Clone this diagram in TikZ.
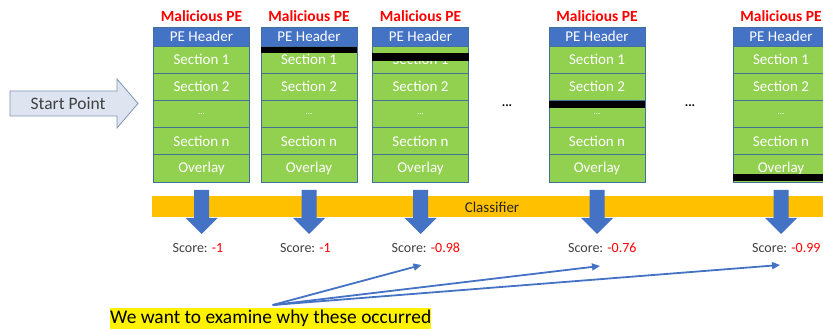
\documentclass[tikz,border=0pt]{standalone}
\usepackage{fontspec}
\setmainfont{Carlito}
\usetikzlibrary{arrows.meta}
\definecolor{hdrblue}{HTML}{4472C4}
\definecolor{secgreen}{HTML}{92D050}
\definecolor{cellline}{HTML}{41719C}
\definecolor{clsyellow}{HTML}{FFC000}
\definecolor{startfill}{HTML}{DEE5F1}
\definecolor{startline}{HTML}{8093B3}
\definecolor{darktext}{HTML}{404040}
\tikzset{
  pename/.style={text=red,font=\fontsize{15.5}{17}\selectfont\bfseries},
  hdrcell/.style={draw=cellline,line width=0.8pt,fill=hdrblue,text=white,
    minimum width=96pt,minimum height=19pt,inner sep=0pt,font=\fontsize{15}{17}\selectfont},
  seccell/.style={hdrcell,fill=secgreen,minimum height=27.2pt},
  scorelbl/.style={anchor=west,text=darktext,inner sep=0pt,font=\fontsize{14}{16}\selectfont},
  pointer/.style={draw=hdrblue,line width=1.8pt,-{Triangle[length=8pt,width=7pt]}}
}
\begin{document}
\begin{tikzpicture}[x=1pt,y=-1pt]
  \useasboundingbox (0,0) rectangle (823,331);
  % start arrow
  \draw[fill=startfill,draw=startline,line width=0.8pt] (10,91) -- (117,91) -- (117,79) -- (138,103.5) -- (117,128) -- (117,116) -- (10,116) -- cycle;
  \node[text=darktext,font=\fontsize{17.5}{20}\selectfont] (start) at (68,104) {Start Point};
  % the PE files
  \foreach \i/\x in {1/201.5,2/309,3/420.5,4/597,5/781}{
    \node[pename] (name\i) at (\x,16) {Malicious PE};
    \node[hdrcell] (hdr\i) at (\x,36.5) {PE Header};
    \node[seccell] (sa\i) at (\x,59.6) {Section 1};
    \node[seccell] (sb\i) at (\x,86.8) {Section 2};
    \node[seccell,font=\fontsize{9}{10}\selectfont] (sd\i) at (\x,114) {...};
    \node[seccell] (sn\i) at (\x,141.2) {Section n};
    \node[seccell] (ov\i) at (\x,168.4) {Overlay};
  }
  % black bars
  \fill ([yshift=-1pt]hdr2.south west) rectangle ([yshift=-7pt]hdr2.south east);
  \fill ([yshift=-7pt]hdr3.south west) rectangle ([yshift=-15pt]hdr3.south east);
  \fill (sb4.south west) rectangle ([yshift=-7pt]sb4.south east);
  \fill ([yshift=8pt]ov5.south west) rectangle ([yshift=1pt]ov5.south east);
  \node[font=\fontsize{13}{15}\selectfont\bfseries] (gap1) at (507,106) {...};
  \node[font=\fontsize{13}{15}\selectfont\bfseries] (gap2) at (690,106) {...};
  % classifier
  \fill[clsyellow] (152,196) rectangle (823,217);
  \node[text=black!85,font=\fontsize{15}{17}\selectfont] (cls) at (492,207) {Classifier};
  \foreach \i/\x/\v in {1/201.5/-1,2/309/-1,3/420.5/-0.98,4/597/-0.76,5/781/-0.99}{
    \fill[hdrblue,shift={(\x,190)}] (-7.5,0) -- (7.5,0) -- (7.5,28) -- (16,28) -- (0,44) -- (-16,28) -- (-7.5,28) -- cycle;
    \node[scorelbl] (score\i) at (\x-29,248) {Score: \textcolor{red}{\v}};
  }
  % note
  \node[anchor=north west,fill=yellow,inner xsep=0pt,inner ysep=2pt,font=\fontsize{19.4}{21}\selectfont] (note) at (110,308) {We want to examine why these occurred};
  \coordinate (src) at ([xshift=2pt,yshift=3pt]note.north);
  \draw[pointer] (src) -- ([xshift=30pt,yshift=-17pt]score3.west);
  \draw[pointer] (src) -- ([xshift=32pt,yshift=-18pt]score4.west);
  \draw[pointer] (src) -- ([xshift=28pt,yshift=-17pt]score5.west);
\end{tikzpicture}
\end{document}
